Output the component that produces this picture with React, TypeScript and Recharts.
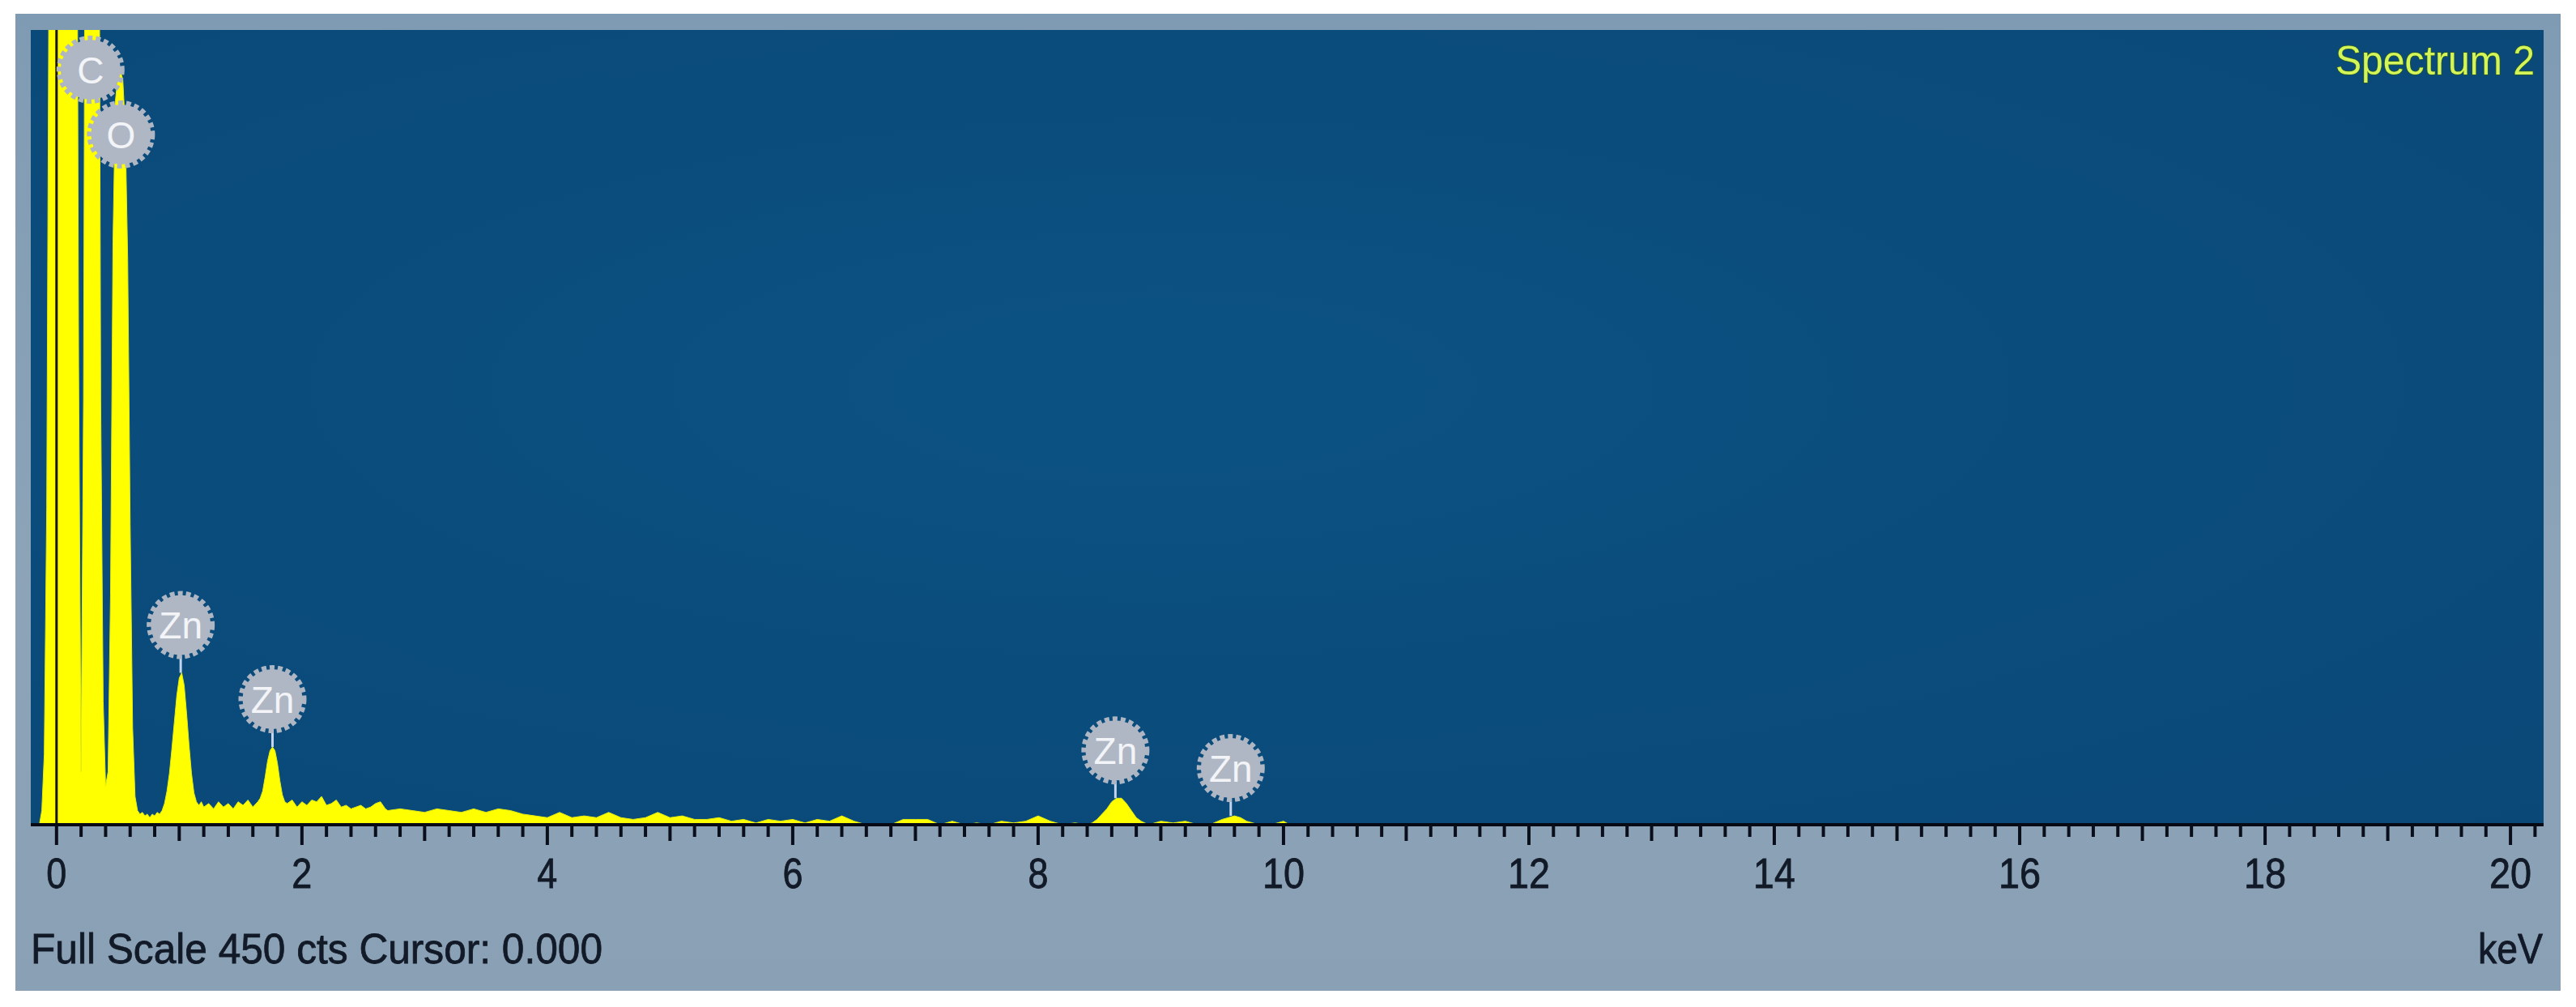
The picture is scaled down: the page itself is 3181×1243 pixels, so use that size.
import { ComposedChart, Area, XAxis, YAxis, ReferenceLine, ReferenceDot } from "recharts";

// EDS spectrum, channels (keV / counts)
const energyKeV = [
  -0.16, -0.14, -0.12, -0.1, -0.08, -0.06, -0.04, -0.02, 0, 0.02, 0.04, 0.06, 0.08, 0.1, 0.12, 0.14, 0.16,
  0.18, 0.2, 0.22, 0.24, 0.26, 0.28, 0.3, 0.32, 0.34, 0.36, 0.38, 0.4, 0.42, 0.44, 0.46, 0.48, 0.5, 0.52,
  0.54, 0.56, 0.58, 0.6, 0.62, 0.64, 0.66, 0.68, 0.7, 0.72, 0.74, 0.76, 0.78, 0.8, 0.82, 0.84, 0.86, 0.88,
  0.9, 0.92, 0.94, 0.96, 0.98, 1.0, 1.02, 1.04, 1.06, 1.08, 1.1, 1.12, 1.14, 1.16, 1.18, 1.2,
  1.24, 1.28, 1.32, 1.36, 1.4, 1.44, 1.48, 1.52, 1.56, 1.6, 1.64,
  1.66, 1.68, 1.7, 1.72, 1.74, 1.76, 1.78, 1.8, 1.82, 1.84, 1.86, 1.88,
  1.92, 1.96, 2.0, 2.04, 2.08, 2.12, 2.16, 2.2, 2.24, 2.28, 2.32, 2.36, 2.4, 2.44, 2.48, 2.52, 2.56, 2.6,
  2.64, 2.68,
  2.7, 2.8, 2.9, 3.0, 3.1, 3.2, 3.3, 3.4, 3.5, 3.6, 3.7, 3.8, 3.9, 4.0, 4.1, 4.2, 4.3, 4.4, 4.5, 4.6, 4.7,
  4.8, 4.9, 5.0, 5.1, 5.2, 5.3, 5.4, 5.5, 5.6, 5.7, 5.8, 5.9, 6.0, 6.1, 6.2, 6.3, 6.4, 6.5, 6.6, 6.7, 6.8,
  6.9, 7.0, 7.1, 7.2, 7.3, 7.4, 7.5, 7.6, 7.7, 7.8, 7.9, 8.0, 8.1, 8.2, 8.3, 8.4,
  8.44, 8.48, 8.52, 8.56, 8.6, 8.64, 8.68, 8.72, 8.76, 8.8, 8.84,
  8.9, 9.0, 9.1, 9.2, 9.3, 9.4, 9.5, 9.55, 9.6, 9.65, 9.7, 9.8, 9.9, 10.0, 10.05,
];

const counts = [
  0, 0, 8, 40, 180, 520, 1200, 1800, 2000, 2100, 2000, 1900, 1700, 1500, 1300, 1000, 700,
  260, 30, 240, 720, 1100, 1250, 1200, 1000, 700, 240, 70, 22, 30, 130, 330, 410, 424, 427,
  422, 395, 320, 170, 55, 16, 8, 6, 7, 5, 6, 4, 6, 5, 7, 6, 8, 12,
  19, 29, 43, 58, 73, 83, 86, 79, 63, 45, 29, 18, 13, 11, 13, 10,
  12, 9, 13, 10, 12, 9, 13, 11, 14, 10, 13,
  15, 19, 27, 36, 42, 44, 42, 35, 25, 17, 13, 12,
  14, 10, 13, 11, 14, 13, 16, 11, 12, 14, 10, 11, 9, 10, 11, 9, 10, 12,
  13, 9,
  8, 9, 8, 7, 9, 8, 7, 9, 7, 9, 8, 6, 5, 4, 7, 4, 5, 4, 7, 4, 3,
  4, 7, 4, 5, 3, 3, 4, 2, 3, 1, 3, 2, 3, 1, 3, 2, 5, 2, 0, 0, 0,
  3, 3, 3, 0, 2, 0, 1, 0, 2, 1, 2, 5, 2, 0, 1, 0,
  1, 3, 6, 9, 13, 15, 15, 12, 8, 4, 2,
  0, 2, 1, 2, 0, 0, 3, 4, 5, 4, 2, 0, 0, 2, 0,
];

const elementNames = ["C", "O", "Zn", "Zn", "Zn", "Zn"];
const elementEnergy = [0.277, 0.525, 1.012, 1.76, 8.63, 9.57];

const majorTicks = [0, 2, 4, 6, 8, 10, 12, 14, 16, 18, 20];
const minorTicks = Array.from({ length: 102 }, (_, i) => Math.round(i * 2) / 10);

const FULL_SCALE = 450;
const CURSOR = 0;
const SPECTRUM = "Spectrum 2";

const W = 3181;
const H = 1243;
const PLOT = { left: 38, right: 3141, top: 37, bottom: 1018 };
const FONT = "'Liberation Sans', Arial, sans-serif";

const data = energyKeV.map((e, i) => ({ e, c: counts[i] }));

const peakAt = (e: number) =>
  Math.max(...energyKeV.map((x, i) => (Math.abs(x - e) <= 0.03 ? counts[i] : 0)));

// labels that sit close together get stacked downwards when capped at the top
const levels: number[] = [];
elementEnergy.forEach((e, i) => {
  levels.push(i > 0 && e - elementEnergy[i - 1] < 0.55 ? levels[i - 1] + 1 : 0);
});

function EnergyTick({ x, y, payload }: any) {
  const v = payload.value;
  const major = majorTicks.includes(v);
  const odd = !major && Number.isInteger(v);
  const len = major ? 25 : odd ? 20 : 15;
  return (
    <g>
      <line x1={x} x2={x} y1={y} y2={y + len} stroke="#0a0e1a" strokeWidth={4} />
      {major && (
        <text
          x={x}
          y={y + 78}
          textAnchor="middle"
          fontSize={52}
          fontFamily={FONT}
          fill="#121a28"
          stroke="#121a28"
          strokeWidth={0.8}
          textLength={String(v).length > 1 ? 52 : 25}
          lengthAdjust="spacingAndGlyphs"
        >
          {v}
        </text>
      )}
    </g>
  );
}

const makeBadge = (name: string, level: number) => (props: any) => {
  const { cx, cy } = props;
  const r = 37;
  const by = Math.max(cy - 59, PLOT.top + 49 + level * 80);
  return (
    <g>
      {cy > by + r && (
        <line x1={cx} x2={cx} y1={by + r} y2={cy} stroke="#c4d4ec" strokeWidth={3} />
      )}
      <circle cx={cx} cy={by} r={r + 2} fill="none" stroke="#aeb6c4" strokeWidth={6} strokeDasharray="6 4" />
      <circle cx={cx} cy={by} r={r} fill="#b0b7c4" />
      <text
        x={cx}
        y={by}
        dy="0.36em"
        textAnchor="middle"
        fontSize={46}
        fontFamily={FONT}
        fill="#f2f4f8"
      >
        {name}
      </text>
    </g>
  );
};

export default function App() {
  return (
    <div style={{ position: "absolute", left: 0, top: 0, width: W, height: H, background: "#fff", overflow: "hidden" }}>
      <div
        style={{
          position: "absolute",
          left: 19,
          top: 17,
          width: 3143,
          height: 1206,
          background: "linear-gradient(180deg, #7f9bb3 0%, #8da4b8 60%, #8aa1b5 100%)",
        }}
      />
      <div
        style={{
          position: "absolute",
          left: PLOT.left,
          top: PLOT.top,
          width: PLOT.right - PLOT.left,
          height: PLOT.bottom - PLOT.top,
          background: "radial-gradient(ellipse at 45% 45%, #0b5282 0%, #0a4c7c 55%, #0a4877 100%)",
        }}
      />
      <div style={{ position: "absolute", left: 0, top: 0 }}>
        <ComposedChart
          width={W}
          height={H}
          data={data}
          margin={{ top: PLOT.top, left: PLOT.left, right: W - PLOT.right, bottom: H - PLOT.bottom - 100 }}
        >
          <XAxis
            dataKey="e"
            type="number"
            domain={[-0.21, 20.27]}
            allowDataOverflow
            ticks={minorTicks}
            interval={0}
            height={100}
            tickSize={0}
            tickMargin={0}
            tickLine={false}
            tick={<EnergyTick />}
            axisLine={{ stroke: "#050a14", strokeWidth: 4 }}
          />
          <YAxis hide type="number" domain={[0, FULL_SCALE]} allowDataOverflow />
          <Area
            dataKey="c"
            type="linear"
            fill="#ffff00"
            fillOpacity={1}
            stroke="#e4ec10"
            strokeWidth={1}
            dot={false}
            activeDot={false}
            isAnimationActive={false}
          />
          <ReferenceLine x={CURSOR} stroke="#1a1408" strokeWidth={3} />
          {elementNames.map((name, i) => (
            <ReferenceDot
              key={i}
              x={elementEnergy[i]}
              y={peakAt(elementEnergy[i])}
              r={1}
              ifOverflow="visible"
              shape={makeBadge(name, levels[i])}
            />
          ))}
        </ComposedChart>
      </div>
      <svg width={W} height={H} style={{ position: "absolute", left: 0, top: 0, pointerEvents: "none" }}>
        <text
          x={3130}
          y={92}
          textAnchor="end"
          fontSize={50}
          fontFamily={FONT}
          fill="#d4f55a"
          stroke="#2f5e1a"
          strokeWidth={1.5}
          paintOrder="stroke"
          textLength={246}
          lengthAdjust="spacingAndGlyphs"
        >
          {SPECTRUM}
        </text>
        <text
          x={38}
          y={1189}
          fontSize={52}
          fontFamily={FONT}
          fill="#121a28"
          stroke="#121a28"
          strokeWidth={0.8}
          textLength={706}
          lengthAdjust="spacingAndGlyphs"
        >
          {`Full Scale ${FULL_SCALE} cts Cursor: ${CURSOR.toFixed(3)}`}
        </text>
        <text
          x={3140}
          y={1189}
          textAnchor="end"
          fontSize={52}
          fontFamily={FONT}
          fill="#121a28"
          stroke="#121a28"
          strokeWidth={0.8}
          textLength={80}
          lengthAdjust="spacingAndGlyphs"
        >
          keV
        </text>
      </svg>
    </div>
  );
}
